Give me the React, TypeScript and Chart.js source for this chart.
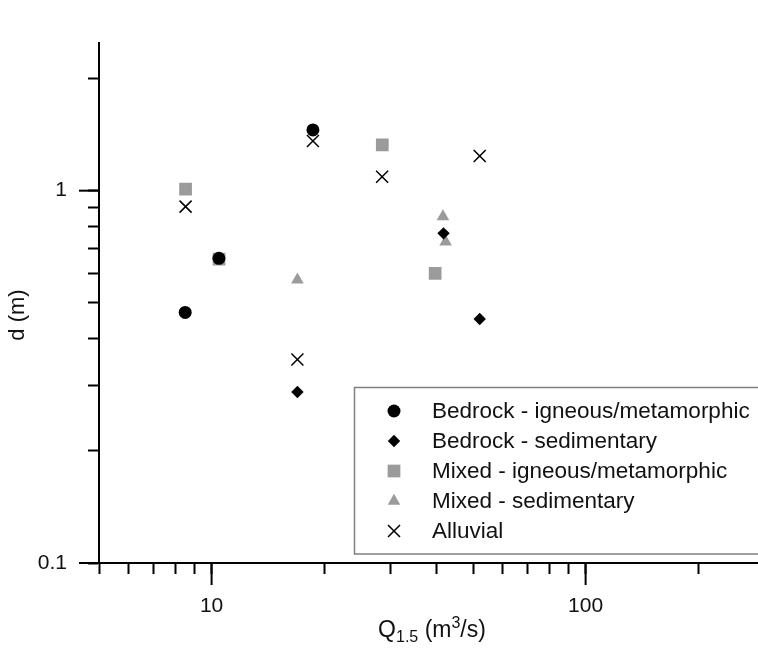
import React, { useEffect, useRef } from "react";
import { Chart, registerables } from "chart.js";
import { drawPoint } from "chart.js/helpers";

Chart.register(...registerables);

// ---- data ----
const seriesNames = [
  "Bedrock - igneous/metamorphic",
  "Bedrock - sedimentary",
  "Mixed - igneous/metamorphic",
  "Mixed - sedimentary",
  "Alluvial",
];

const bedrockIgneousQ = [8.5, 10.46, 18.66];
const bedrockIgneousD = [0.471, 0.658, 1.456];

const bedrockSedQ = [16.96, 41.7, 52.1];
const bedrockSedD = [0.288, 0.768, 0.452];

const mixedIgneousQ = [8.52, 10.47, 28.6, 39.6];
const mixedIgneousD = [1.009, 0.655, 1.327, 0.6];

const mixedSedQ = [16.96, 41.55, 42.24];
const mixedSedD = [0.576, 0.852, 0.729];

const alluvialQ = [18.66, 28.57, 52.1, 8.52, 16.96];
const alluvialD = [1.36, 1.09, 1.239, 0.906, 0.352];

const xTickValues = [5, 6, 7, 8, 9, 10, 20, 30, 40, 50, 60, 70, 80, 90, 100, 200];
const xMajorTicks = [10, 100];
const yTickValues = [0.1, 0.2, 0.3, 0.4, 0.5, 0.6, 0.7, 0.8, 0.9, 1, 2];
const yMajorTicks = [0.1, 1];

const X_MIN = 5;
const X_MAX = 289;
const Y_MIN = 0.1;
const Y_MAX = 2.5;

const FONT = "'Liberation Sans', Arial, Helvetica, sans-serif";
const TEXT = "#111111";
const GRAY = "#9b9b9b";

const toPoints = (xs: number[], ys: number[]) => xs.map((x, i) => ({ x, y: ys[i] }));

const overlayPlugin = {
  id: "overlay",
  afterDraw(chart: any) {
    const ctx: CanvasRenderingContext2D = chart.ctx;
    const xs = chart.scales.x;
    const ys = chart.scales.y;
    const area = chart.chartArea;
    ctx.save();

    // long major ticks
    ctx.strokeStyle = "#000";
    ctx.lineWidth = 2;
    ctx.lineCap = "butt";
    xMajorTicks.forEach((v) => {
      const px = xs.getPixelForValue(v);
      ctx.beginPath();
      ctx.moveTo(px, area.bottom);
      ctx.lineTo(px, area.bottom + 22);
      ctx.stroke();
    });
    yMajorTicks.forEach((v) => {
      const py = ys.getPixelForValue(v);
      ctx.beginPath();
      ctx.moveTo(area.left, py);
      ctx.lineTo(area.left - 20, py);
      ctx.stroke();
    });

    // x title with sub/superscript
    ctx.fillStyle = TEXT;
    ctx.textBaseline = "alphabetic";
    ctx.textAlign = "left";
    const big = `23px ${FONT}`;
    const small = `16px ${FONT}`;
    const parts: [string, string, number][] = [
      ["Q", big, 0],
      ["1.5", small, 5],
      [" (m", big, 0],
      ["3", small, -9],
      ["/s)", big, 0],
    ];
    let total = 0;
    parts.forEach(([t, f]) => {
      ctx.font = f;
      total += ctx.measureText(t).width;
    });
    let cx = 432 - total / 2;
    const base = 637;
    parts.forEach(([t, f, dy]) => {
      ctx.font = f;
      ctx.fillText(t, cx, base + dy);
      cx += ctx.measureText(t).width;
    });

    // y title
    ctx.save();
    ctx.translate(18, 315);
    ctx.rotate(-Math.PI / 2);
    ctx.font = `22px ${FONT}`;
    ctx.textAlign = "center";
    ctx.textBaseline = "middle";
    ctx.fillText("d (m)", 0, 0);
    ctx.restore();

    // legend box
    ctx.fillStyle = "#fff";
    ctx.fillRect(354.5, 387.5, 420, 166.5);
    ctx.strokeStyle = "#808080";
    ctx.lineWidth = 1.5;
    ctx.strokeRect(354.5, 387.5, 420, 166.5);

    chart.data.datasets.forEach((ds: any, i: number) => {
      const y = 411 + i * 30;
      ctx.fillStyle = ds.backgroundColor;
      ctx.strokeStyle = ds.borderColor;
      ctx.lineWidth = ds.borderWidth;
      drawPoint(
        ctx,
        { pointStyle: ds.pointStyle, radius: ds.pointRadius, rotation: 0, borderWidth: ds.borderWidth } as any,
        394,
        y
      );
      ctx.fillStyle = TEXT;
      ctx.font = `22.5px ${FONT}`;
      ctx.textAlign = "left";
      ctx.textBaseline = "middle";
      ctx.fillText(ds.label, 432, y + 1);
    });

    ctx.restore();
  },
};

export default function App() {
  const ref = useRef<HTMLCanvasElement>(null);

  useEffect(() => {
    const chart = new Chart(ref.current as HTMLCanvasElement, {
      type: "scatter",
      data: {
        datasets: [
          {
            label: seriesNames[0],
            data: toPoints(bedrockIgneousQ, bedrockIgneousD),
            pointStyle: "circle",
            pointRadius: 6.5,
            backgroundColor: "#000",
            borderColor: "#000",
            borderWidth: 0,
          },
          {
            label: seriesNames[1],
            data: toPoints(bedrockSedQ, bedrockSedD),
            pointStyle: "rectRot",
            pointRadius: 6.2,
            backgroundColor: "#000",
            borderColor: "#000",
            borderWidth: 0,
          },
          {
            label: seriesNames[2],
            data: toPoints(mixedIgneousQ, mixedIgneousD),
            pointStyle: "rect",
            pointRadius: 9,
            backgroundColor: GRAY,
            borderColor: GRAY,
            borderWidth: 0,
          },
          {
            label: seriesNames[3],
            data: toPoints(mixedSedQ, mixedSedD),
            pointStyle: "triangle",
            pointRadius: 7.3,
            backgroundColor: GRAY,
            borderColor: GRAY,
            borderWidth: 0,
          },
          {
            label: seriesNames[4],
            data: toPoints(alluvialQ, alluvialD),
            pointStyle: "crossRot",
            pointRadius: 8.5,
            backgroundColor: "#000",
            borderColor: "#000",
            borderWidth: 1.5,
          },
        ] as any,
      },
      options: {
        responsive: false,
        animation: false,
        devicePixelRatio: 1,
        layout: { autoPadding: false, padding: { top: 42.5, left: 0, right: 0, bottom: 0 } },
        plugins: {
          legend: { display: false },
          tooltip: { enabled: false },
        },
        scales: {
          x: {
            type: "logarithmic",
            position: "bottom",
            min: X_MIN,
            max: X_MAX,
            bounds: "data",
            afterBuildTicks: (s: any) => {
              s.ticks = xTickValues.map((v) => ({ value: v }));
            },
            afterFit: (s: any) => {
              s.height = 88;
            },
            grid: {
              display: true,
              drawOnChartArea: false,
              drawTicks: true,
              tickLength: 11,
              tickWidth: 2,
              tickColor: "#000",
            },
            border: { display: true, color: "#000", width: 2 },
            ticks: {
              autoSkip: false,
              maxRotation: 0,
              minRotation: 0,
              padding: 20,
              color: TEXT,
              font: { family: FONT, size: 21 },
              callback: (v: any) => (xMajorTicks.includes(Number(v)) ? String(v) : ""),
            },
          },
          y: {
            type: "logarithmic",
            position: "left",
            min: Y_MIN,
            max: Y_MAX,
            bounds: "data",
            afterBuildTicks: (s: any) => {
              s.ticks = yTickValues.map((v) => ({ value: v }));
            },
            afterFit: (s: any) => {
              s.width = 99;
            },
            grid: {
              display: true,
              drawOnChartArea: false,
              drawTicks: true,
              tickLength: 11,
              tickWidth: 2,
              tickColor: "#000",
            },
            border: { display: true, color: "#000", width: 2 },
            ticks: {
              autoSkip: false,
              padding: 21,
              color: TEXT,
              font: { family: FONT, size: 21 },
              callback: (v: any) => (yMajorTicks.includes(Number(v)) ? String(v) : ""),
            },
          },
        },
      } as any,
      plugins: [overlayPlugin],
    });
    return () => chart.destroy();
  }, []);

  return (
    <div style={{ position: "fixed", left: 0, top: 0, width: 758, height: 651, background: "#fff" }}>
      <canvas ref={ref} width={758} height={651} style={{ display: "block", width: 758, height: 651 }} />
    </div>
  );
}
